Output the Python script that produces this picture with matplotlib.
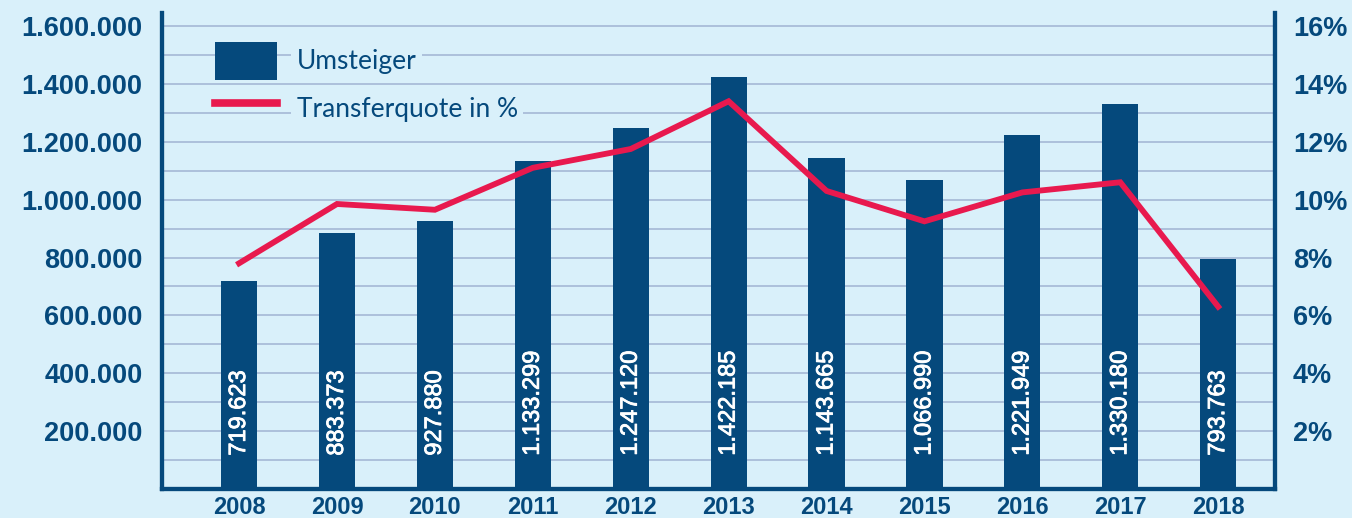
import matplotlib
matplotlib.use("Agg")
import matplotlib.pyplot as plt
import matplotlib.patheffects as pe
from matplotlib.patches import Patch
from matplotlib.lines import Line2D
from matplotlib.ticker import MultipleLocator, FixedLocator

years = ["2008", "2009", "2010", "2011", "2012", "2013", "2014", "2015", "2016", "2017", "2018"]
umsteiger = [719623, 883373, 927880, 1133299, 1247120, 1422185, 1143665, 1066990, 1221949, 1330180, 793763]
transferquote = [7.8, 9.85, 9.65, 11.1, 11.75, 13.4, 10.3, 9.25, 10.25, 10.6, 6.3]
left_ticks = [200000, 400000, 600000, 800000, 1000000, 1200000, 1400000, 1600000]
right_ticks = [2, 4, 6, 8, 10, 12, 14, 16]

BG = "#d9f0fa"
DARK = "#05497c"
RED = "#e8194e"
GRID = "#a9bcd8"

def de_fmt(v):
    return f"{v:,}".replace(",", ".")

fig = plt.figure(figsize=(13.52, 5.18), dpi=100, facecolor=BG)
ax = fig.add_axes([162/1352, 29/518, (1275-162)/1352, 476/518])
ax.set_facecolor(BG)
ax2 = ax.twinx()

x = list(range(len(years)))
ax.bar(x, umsteiger, width=0.37, color=DARK, zorder=2)
for xi, v in zip(x, umsteiger):
    ax.annotate(de_fmt(v), xy=(xi, 0), xytext=(0, 24), textcoords="offset points",
                rotation=90, ha="center", va="bottom", color="white",
                fontsize=17, family="Liberation Sans", zorder=3,
                path_effects=[pe.withStroke(linewidth=0.6, foreground="white")])

ax2.plot(x, transferquote, color=RED, lw=4.2, solid_joinstyle="miter", zorder=3)

ymax = 1645000
ax.set_ylim(0, ymax)
ax2.set_ylim(0, ymax / 100000)
ax.set_xlim(-0.787, 10.58)

ax.yaxis.set_major_locator(FixedLocator(left_ticks))
ax.set_yticklabels([de_fmt(v) for v in left_ticks])
ax.yaxis.set_minor_locator(MultipleLocator(100000))
ax.grid(True, which="both", axis="y", color=GRID, lw=1.3)
ax.set_axisbelow(True)
ax2.yaxis.set_major_locator(FixedLocator(right_ticks))
ax2.set_yticklabels([f"{v}%" for v in right_ticks])

ax.set_xticks(x)
ax.set_xticklabels(years)

for a in (ax, ax2):
    a.tick_params(axis="both", which="both", length=0, colors=DARK)
    for s in a.spines.values():
        s.set_color(DARK)
        s.set_linewidth(3)
    a.spines["top"].set_visible(False)

ax.tick_params(axis="y", pad=14)
ax2.tick_params(axis="y", pad=13)
ax.tick_params(axis="x", pad=5)
for lab in ax.get_yticklabels() + ax2.get_yticklabels():
    lab.set_fontfamily("Liberation Sans")
    lab.set_fontweight("bold")
    lab.set_fontsize(19.5)
for lab in ax.get_xticklabels():
    lab.set_fontfamily("Liberation Sans")
    lab.set_fontweight("bold")
    lab.set_fontsize(17)

handles = [Patch(facecolor=DARK, edgecolor="none"),
           Line2D([0], [0], color=RED, lw=5.5)]
leg = ax2.legend(handles, ["Umsteiger", "Transferquote in %"], loc="upper left",
                 bbox_to_anchor=(215/1352, 1 - 42/518), bbox_transform=fig.transFigure,
                 frameon=False, borderpad=0, borderaxespad=0,
                 handlelength=2.35, handleheight=1.84, labelspacing=0.35,
                 handletextpad=0.75,
                 prop={"family": "Lato", "size": 19})
for t in leg.get_texts():
    t.set_color(DARK)
    t.set_bbox(dict(facecolor=BG, edgecolor="none", pad=4))

fig.savefig("out.png", dpi=100, facecolor=BG)
